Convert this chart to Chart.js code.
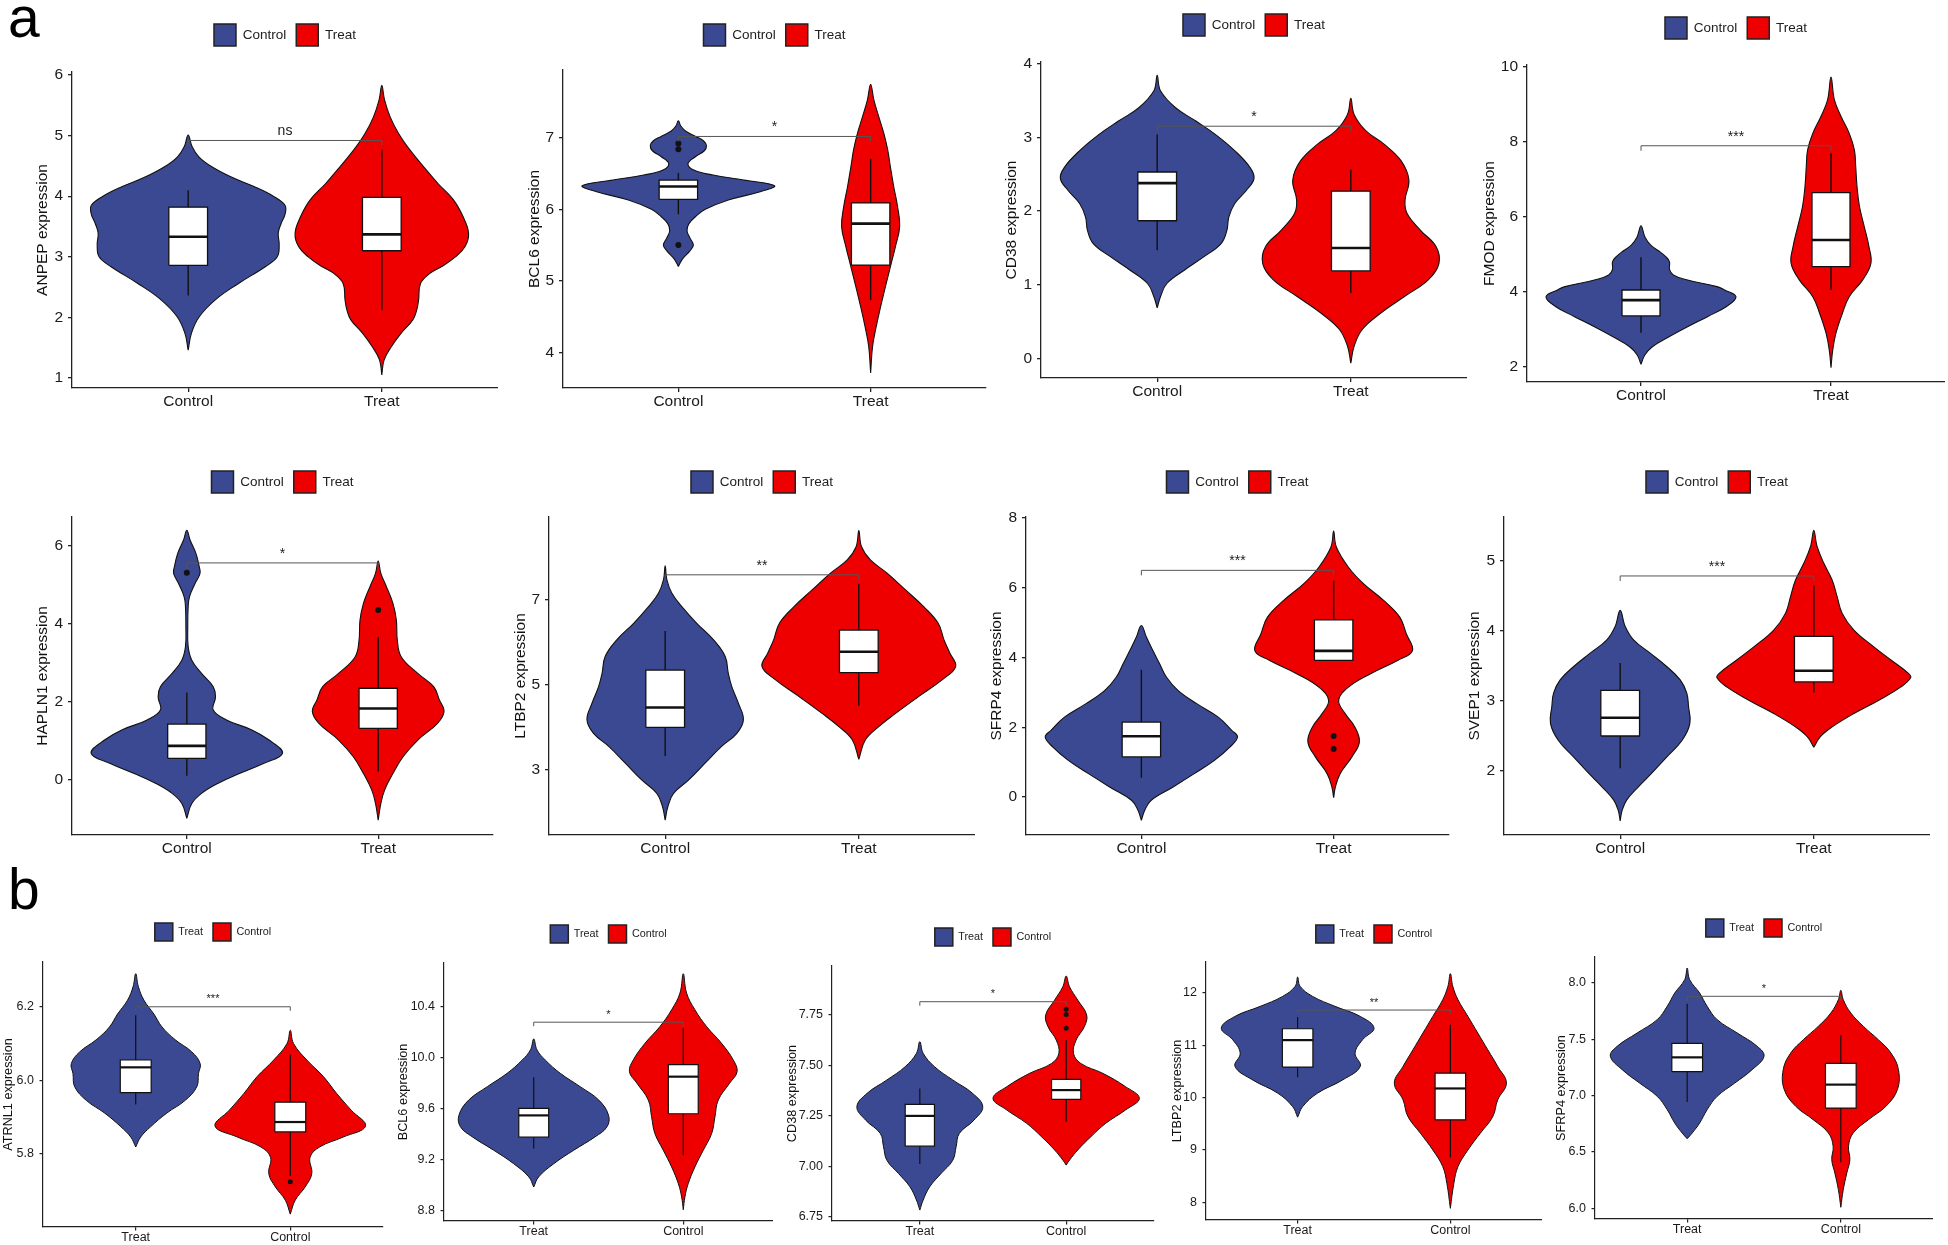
<!DOCTYPE html>
<html>
<head>
<meta charset="utf-8">
<title>Violin plots</title>
<script src="https://cdn.jsdelivr.net/npm/chart.js@4.4.1/dist/chart.umd.min.js"></script>
<style>
  html, body { margin: 0; padding: 0; background: #fff; }
  body { position: relative; width: 1948px; height: 1245px; overflow: hidden; }
  .tag { position: absolute; font-family: 'Liberation Sans', Arial, sans-serif; font-size: 57px; line-height: 57px; color: #000; }
  canvas { position: absolute; }
</style>
</head>
<body>
<div class="tag" style="left:8px; top:-11px;">a</div>
<div class="tag" style="left:8px; top:861px;">b</div>
<script>
// ---------- panel a (Control vs Treat) ----------
const groupsA = ['Control', 'Treat'];
const genesA = ['ANPEP', 'BCL6', 'CD38', 'FMOD', 'HAPLN1', 'LTBP2', 'SFRP4', 'SVEP1'];
const signifA = ['ns', '*', '*', '***', '*', '**', '***', '***'];
const bracketA = [4.92, 7.02, 3.15, 7.89, 5.56, 7.59, 6.50, 4.78];
const yRangeA = [[0.835, 6.05], [3.5, 7.95], [-0.26, 4.02], [1.6, 10.04], [-1.43, 6.74], [1.47, 8.95], [-1.09, 8.03], [1.09, 5.62]];
const yTicksA = [
  ['1', '2', '3', '4', '5', '6'], ['4', '5', '6', '7'], ['0', '1', '2', '3', '4'], ['2', '4', '6', '8', '10'],
  ['0', '2', '4', '6'], ['3', '5', '7'], ['0', '2', '4', '6', '8'], ['2', '3', '4', '5']
];

// violin outlines: [expression, half width] from bottom tip to top tip, one list per group
const violinA_ANPEP = [
  [[1.46,0],[1.74,0.017],[2.01,0.057],[2.29,0.14],[2.56,0.26],[2.84,0.4],[3.0,0.46],[3.2,0.47],[3.39,0.465],[3.55,0.48],[3.7,0.5],[3.85,0.5],[4.0,0.44],[4.16,0.34],[4.32,0.22],[4.49,0.12],[4.65,0.055],[4.82,0.02],[5.01,0]],
  [[1.05,0],[1.3,0.012],[1.52,0.05],[1.74,0.1],[1.96,0.16],[2.12,0.18],[2.29,0.19],[2.56,0.2],[2.73,0.25],[2.84,0.31],[3.0,0.38],[3.17,0.43],[3.39,0.448],[3.66,0.42],[3.94,0.37],[4.21,0.29],[4.49,0.215],[4.76,0.146],[5.04,0.086],[5.31,0.043],[5.59,0.014],[5.83,0]]
];
const violinA_BCL6 = [
  [[5.2,0],[5.3,0.02],[5.42,0.06],[5.5,0.078],[5.6,0.06],[5.7,0.045],[5.8,0.055],[5.9,0.09],[6.0,0.14],[6.13,0.26],[6.25,0.43],[6.33,0.5],[6.41,0.34],[6.48,0.18],[6.55,0.08],[6.64,0.05],[6.74,0.09],[6.82,0.135],[6.89,0.146],[6.96,0.13],[7.02,0.09],[7.1,0.035],[7.17,0.012],[7.24,0]],
  [[3.71,0],[4.08,0.01],[4.36,0.029],[4.64,0.052],[4.92,0.077],[5.2,0.103],[5.48,0.129],[5.76,0.151],[6.04,0.14],[6.32,0.12],[6.59,0.103],[6.83,0.089],[7.06,0.069],[7.29,0.043],[7.53,0.017],[7.75,0]]
];
const violinA_CD38 = [
  [[0.69,0],[0.84,0.017],[1.02,0.05],[1.2,0.14],[1.38,0.24],[1.56,0.33],[1.74,0.36],[1.92,0.37],[2.1,0.4],[2.28,0.46],[2.44,0.5],[2.59,0.48],[2.82,0.4],[3.04,0.3],[3.22,0.2],[3.4,0.095],[3.63,0.017],[3.84,0]],
  [[-0.06,0],[0.17,0.017],[0.4,0.06],[0.62,0.155],[0.84,0.275],[1.07,0.4],[1.29,0.455],[1.52,0.44],[1.74,0.36],[1.97,0.29],[2.15,0.28],[2.42,0.3],[2.68,0.26],[2.91,0.17],[3.09,0.077],[3.31,0.017],[3.53,0]]
];
const violinA_FMOD = [
  [[2.07,0],[2.32,0.02],[2.54,0.06],[2.81,0.15],[3.07,0.245],[3.34,0.35],[3.61,0.45],[3.87,0.5],[4.05,0.44],[4.14,0.4],[4.32,0.24],[4.45,0.17],[4.6,0.15],[4.8,0.15],[4.94,0.13],[5.1,0.09],[5.25,0.05],[5.47,0.02],[5.76,0]],
  [[1.98,0],[2.45,0.009],[2.9,0.026],[3.43,0.06],[3.87,0.096],[4.32,0.167],[4.76,0.21],[5.2,0.2],[5.74,0.175],[6.27,0.15],[6.8,0.137],[7.34,0.13],[7.78,0.123],[8.22,0.096],[8.67,0.053],[9.11,0.018],[9.72,0]]
];
const violinA_HAPLN1 = [
  [[-1.0,0],[-0.62,0.026],[-0.36,0.077],[-0.1,0.164],[0.15,0.275],[0.41,0.4],[0.67,0.5],[1.01,0.43],[1.27,0.34],[1.52,0.21],[1.78,0.138],[2.12,0.15],[2.38,0.138],[2.72,0.077],[3.06,0.026],[3.41,0.007],[3.92,0.005],[4.43,0.007],[4.69,0.014],[5.03,0.043],[5.29,0.069],[5.46,0.065],[5.8,0.048],[6.15,0.017],[6.4,0]],
  [[-1.05,0],[-0.62,0.014],[-0.27,0.034],[0.15,0.077],[0.58,0.13],[1.01,0.207],[1.44,0.31],[1.74,0.344],[2.04,0.32],[2.38,0.29],[2.72,0.207],[3.15,0.12],[3.58,0.1],[4.09,0.095],[4.52,0.077],[4.95,0.043],[5.29,0.014],[5.61,0]]
];
const violinA_LTBP2 = [
  [[1.82,0],[2.14,0.014],[2.45,0.043],[2.76,0.12],[3.16,0.206],[3.55,0.29],[3.86,0.37],[4.18,0.404],[4.57,0.378],[4.96,0.344],[5.27,0.326],[5.67,0.31],[6.06,0.25],[6.45,0.163],[6.84,0.086],[7.16,0.034],[7.47,0.009],[7.8,0]],
  [[3.25,0],[3.71,0.034],[4.02,0.103],[4.33,0.19],[4.73,0.31],[5.12,0.43],[5.43,0.5],[5.75,0.47],[6.06,0.44],[6.45,0.41],[6.84,0.335],[7.24,0.24],[7.63,0.146],[7.94,0.06],[8.25,0.014],[8.63,0]]
];
const violinA_SFRP4 = [
  [[-0.67,0],[-0.39,0.017],[-0.1,0.05],[0.28,0.163],[0.67,0.275],[1.05,0.38],[1.43,0.46],[1.72,0.5],[1.91,0.47],[2.29,0.4],[2.67,0.29],[3.06,0.19],[3.44,0.13],[3.82,0.095],[4.2,0.06],[4.59,0.026],[4.92,0]],
  [[-0.02,0],[0.28,0.009],[0.67,0.034],[1.15,0.095],[1.58,0.134],[2.01,0.11],[2.39,0.06],[2.77,0.026],[3.15,0.077],[3.53,0.19],[3.92,0.335],[4.2,0.41],[4.68,0.378],[5.16,0.344],[5.64,0.26],[6.12,0.155],[6.59,0.077],[7.17,0.014],[7.63,0]]
];
const violinA_SVEP1 = [
  [[1.29,0],[1.44,0.01],[1.59,0.034],[1.78,0.095],[1.97,0.163],[2.2,0.24],[2.44,0.32],[2.68,0.36],[2.92,0.353],[3.11,0.344],[3.3,0.31],[3.49,0.24],[3.68,0.155],[3.87,0.069],[4.06,0.026],[4.29,0]],
  [[2.34,0],[2.49,0.034],[2.63,0.095],[2.82,0.207],[3.01,0.336],[3.2,0.45],[3.33,0.5],[3.39,0.49],[3.58,0.4],[3.77,0.31],[4.01,0.207],[4.25,0.146],[4.49,0.12],[4.72,0.095],[4.96,0.052],[5.2,0.017],[5.43,0]]
];

// box plots: [lower whisker, Q1, median, Q3, upper whisker] per group
const boxA_ANPEP = [[2.36, 2.86, 3.33, 3.82, 4.10], [2.12, 3.10, 3.37, 3.98, 4.77]];
const boxA_BCL6 = [[5.93, 6.14, 6.32, 6.41, 6.51], [4.73, 5.22, 5.80, 6.09, 6.71]];
const boxA_CD38 = [[1.47, 1.87, 2.38, 2.53, 3.04], [0.89, 1.19, 1.50, 2.27, 2.56]];
const boxA_FMOD = [[2.91, 3.36, 3.78, 4.05, 4.92], [4.05, 4.67, 5.38, 6.64, 7.69]];
const boxA_HAPLN1 = [[0.09, 0.54, 0.86, 1.42, 2.23], [0.20, 1.31, 1.82, 2.34, 3.65]];
const boxA_LTBP2 = [[3.33, 4.00, 4.47, 5.35, 6.27], [4.51, 5.29, 5.78, 6.29, 7.38]];
const boxA_SFRP4 = [[0.55, 1.15, 1.74, 2.15, 3.65], [3.90, 3.92, 4.19, 5.08, 6.21]];
const boxA_SVEP1 = [[2.04, 2.50, 2.76, 3.15, 3.54], [3.12, 3.27, 3.43, 3.92, 4.64]];

// outliers: [group (1 or 2), value]
const outA_BCL6 = [[1, 6.92], [1, 6.84], [1, 5.5]];
const outA_HAPLN1 = [[1, 5.31], [2, 4.35]];
const outA_SFRP4 = [[2, 1.75], [2, 1.38]];

// ---------- panel b (Treat vs Control) ----------
const groupsB = ['Treat', 'Control'];
const genesB = ['ATRNL1', 'BCL6', 'CD38', 'LTBP2', 'SFRP4'];
const signifB = ['***', '*', '*', '**', '*'];
const bracketB = [6.2, 10.277, 7.816, 11.675, 7.882];
const yRangeB = [[5.6, 6.322], [8.722, 10.74], [6.729, 7.993], [7.662, 12.593], [5.905, 8.231]];
const yTicksB = [
  ['5.8', '6.0', '6.2'], ['8.8', '9.2', '9.6', '10.0', '10.4'], ['6.75', '7.00', '7.25', '7.50', '7.75'],
  ['8', '9', '10', '11', '12'], ['6.0', '6.5', '7.0', '7.5', '8.0']
];

const violinB_ATRNL1 = [
  [[5.818,0],[5.845,0.032],[5.873,0.096],[5.91,0.2],[5.945,0.32],[5.982,0.395],[6.018,0.406],[6.045,0.417],[6.077,0.363],[6.11,0.256],[6.145,0.17],[6.18,0.118],[6.218,0.053],[6.255,0.017],[6.29,0]],
  [[5.635,0],[5.673,0.032],[5.709,0.096],[5.745,0.139],[5.79,0.128],[5.818,0.19],[5.845,0.342],[5.875,0.487],[5.918,0.395],[5.964,0.3],[6.01,0.214],[6.055,0.107],[6.1,0.021],[6.136,0]]
];
const violinB_BCL6 = [
  [[8.988,0],[9.067,0.033],[9.17,0.134],[9.276,0.268],[9.38,0.41],[9.459,0.49],[9.55,0.5],[9.668,0.435],[9.773,0.31],[9.877,0.178],[9.98,0.078],[10.06,0.022],[10.146,0]],
  [[8.81,0],[8.91,0.011],[9.014,0.033],[9.145,0.078],[9.276,0.134],[9.407,0.19],[9.537,0.212],[9.668,0.234],[9.8,0.31],[9.89,0.36],[9.982,0.334],[10.112,0.256],[10.243,0.156],[10.374,0.078],[10.505,0.022],[10.656,0]]
];
const violinB_CD38 = [
  [[6.783,0],[6.833,0.023],[6.899,0.068],[6.965,0.146],[7.03,0.225],[7.097,0.248],[7.163,0.27],[7.229,0.37],[7.295,0.43],[7.362,0.36],[7.428,0.225],[7.494,0.1],[7.56,0.023],[7.618,0]],
  [[7.006,0],[7.031,0.023],[7.081,0.079],[7.147,0.169],[7.213,0.27],[7.279,0.405],[7.337,0.5],[7.395,0.405],[7.461,0.25],[7.51,0.1],[7.56,0.05],[7.626,0.068],[7.692,0.124],[7.75,0.14],[7.824,0.079],[7.89,0.023],[7.943,0]]
];
const violinB_LTBP2 = [
  [[9.627,0],[9.83,0.033],[10.086,0.13],[10.34,0.295],[10.597,0.41],[10.85,0.376],[11.107,0.425],[11.33,0.5],[11.553,0.41],[11.745,0.245],[11.936,0.098],[12.128,0.016],[12.306,0]],
  [[7.885,0],[8.364,0.023],[8.683,0.05],[9.0,0.115],[9.32,0.196],[9.64,0.278],[9.959,0.31],[10.278,0.367],[10.597,0.31],[10.915,0.245],[11.234,0.18],[11.553,0.115],[11.872,0.05],[12.128,0.016],[12.37,0]]
];
const violinB_SFRP4 = [
  [[6.618,0],[6.669,0.033],[6.757,0.081],[6.876,0.13],[6.994,0.195],[7.112,0.31],[7.231,0.423],[7.35,0.5],[7.438,0.456],[7.556,0.326],[7.675,0.195],[7.793,0.13],[7.911,0.081],[8.03,0.016],[8.133,0]],
  [[6.009,0],[6.166,0.016],[6.314,0.039],[6.432,0.059],[6.55,0.05],[6.669,0.081],[6.787,0.18],[6.905,0.293],[7.053,0.368],[7.231,0.375],[7.379,0.326],[7.497,0.244],[7.615,0.147],[7.734,0.065],[7.852,0.016],[7.935,0]]
];

const boxB_ATRNL1 = [[5.934, 5.966, 6.035, 6.055, 6.177], [5.739, 5.859, 5.886, 5.94, 6.07]];
const boxB_BCL6 = [[9.289, 9.378, 9.548, 9.603, 9.846], [9.237, 9.561, 9.851, 9.945, 10.23]];
const boxB_CD38 = [[7.011, 7.1, 7.25, 7.307, 7.386], [7.221, 7.332, 7.378, 7.431, 7.626]];
const boxB_LTBP2 = [[10.39, 10.584, 11.1, 11.317, 11.54], [8.855, 9.576, 10.176, 10.469, 11.394]];
const boxB_SFRP4 = [[6.944, 7.213, 7.34, 7.464, 7.817], [6.408, 6.89, 7.098, 7.287, 7.536]];

const outB_ATRNL1 = [[2, 5.723]];
const outB_CD38 = [[2, 7.778], [2, 7.752], [2, 7.684]];

const violinsA = [violinA_ANPEP, violinA_BCL6, violinA_CD38, violinA_FMOD, violinA_HAPLN1, violinA_LTBP2, violinA_SFRP4, violinA_SVEP1];
const boxesA = [boxA_ANPEP, boxA_BCL6, boxA_CD38, boxA_FMOD, boxA_HAPLN1, boxA_LTBP2, boxA_SFRP4, boxA_SVEP1];
const outliersA = [[], outA_BCL6, [], [], outA_HAPLN1, [], outA_SFRP4, []];
const violinsB = [violinB_ATRNL1, violinB_BCL6, violinB_CD38, violinB_LTBP2, violinB_SFRP4];
const boxesB = [boxB_ATRNL1, boxB_BCL6, boxB_CD38, boxB_LTBP2, boxB_SFRP4];
const outliersB = [outB_ATRNL1, [], outB_CD38, [], []];

// ---------- layout: plot area [left, top, right, bottom], legend box top, y-title distance ----------
const layoutA = [
  [72, 72, 498, 388, 24, 29], [563, 70, 990, 388, 24, 28], [1041, 62, 1467, 378, 14, 29], [1527, 65, 1945, 382, 17, 37],
  [72, 517, 497, 835, 471, 29], [549, 517, 975, 835, 471, 28], [1026, 517, 1453, 835, 471, 29], [1504, 517, 1930, 835, 471, 29]
];
const layoutB = [
  [43, 962, 387, 1227, 923, 35], [444, 963, 773, 1221, 925, 41], [832, 966, 1158, 1221, 928, 40],
  [1206, 962, 1542, 1220, 925, 29], [1595, 957, 1933, 1219, 919, 34]
];

const FONT = "'Liberation Sans', Arial, Helvetica, sans-serif";
const FILLS = ['#3B4992', '#EE0000'];
const INK = '#1a1a1a';

const styleBig = { yAxisW: 60, xAxisH: 30, tickFont: 15.5, titleFont: 15.5, legendFont: 13.5, legendBox: 22,
  signifFont: 14, violinLW: 1.1, boxLW: 1.3, whiskerLW: 1.4, medianLW: 2.6, axisLW: 1.3, tickLen: 4,
  xPad: 0.5, yPad: 5, dotR: 3, tip: 5 };
const styleSmall = { yAxisW: 52, xAxisH: 26, tickFont: 12.5, titleFont: 12.7, legendFont: 10.8, legendBox: 18,
  signifFont: 11, violinLW: 1, boxLW: 1.2, whiskerLW: 1.2, medianLW: 2.2, axisLW: 1.2, tickLen: 3.5,
  xPad: 0, yPad: 5.5, dotR: 2.5, tip: 4 };

Chart.defaults.font.family = FONT;
Chart.defaults.color = INK;

const bracketPlugin = {
  id: 'signifBracket',
  afterDatasetsDraw(chart, args, o) {
    const { ctx, scales: { x, y } } = chart;
    const py = y.getPixelForValue(o.value);
    const x1 = x.getPixelForValue(1);
    const x2 = x.getPixelForValue(2);
    ctx.save();
    ctx.strokeStyle = '#555';
    ctx.lineWidth = 1;
    ctx.beginPath();
    ctx.moveTo(x1, py + o.tip);
    ctx.lineTo(x1, py);
    ctx.lineTo(x2, py);
    ctx.lineTo(x2, py + o.tip);
    ctx.stroke();
    ctx.fillStyle = '#222';
    ctx.font = o.fontSize + 'px ' + FONT;
    ctx.textAlign = 'center';
    ctx.textBaseline = 'bottom';
    ctx.fillText(o.label, (x1 + x2) / 2, py - 2);
    ctx.restore();
  }
};

function violinPoints(profile, center) {
  const right = profile.map(([v, w]) => ({ x: center + w, y: v }));
  const left = profile.slice().reverse().map(([v, w]) => ({ x: center - w, y: v }));
  return right.concat(left.slice(1));
}

function boxPoints(b, c, hw) {
  return [{ x: c - hw, y: b[1] }, { x: c + hw, y: b[1] }, { x: c + hw, y: b[3] }, { x: c - hw, y: b[3] }, { x: c - hw, y: b[1] }];
}

function drawPanel(p) {
  const s = p.style;
  const [x0, y0, x1, y1, legendTop, titleDist] = p.rect;
  const left = x0 - s.yAxisW;
  const top = legendTop - 10;
  const width = x1 - left;
  const height = y1 + s.xAxisH - top;
  const spacer = y0 - legendTop - s.legendBox - 10;
  const titlePad = s.yAxisW - titleDist - s.titleFont * 0.6;

  const canvas = document.createElement('canvas');
  canvas.width = width;
  canvas.height = height;
  canvas.style.left = left + 'px';
  canvas.style.top = top + 'px';
  canvas.style.width = width + 'px';
  canvas.style.height = height + 'px';
  document.body.appendChild(canvas);

  const datasets = [];
  p.violins.forEach((prof, g) => datasets.push({
    label: p.groups[g], data: violinPoints(prof, g + 1),
    backgroundColor: FILLS[g], borderColor: '#111', borderWidth: s.violinLW, borderJoinStyle: 'round',
    fill: 'shape', tension: 0.4, pointRadius: 0, order: 5
  }));
  p.boxes.forEach((b, g) => {
    const c = g + 1;
    datasets.push({ data: [{ x: c, y: b[0] }, { x: c, y: b[4] }], borderColor: '#111',
      borderWidth: s.whiskerLW, pointRadius: 0, fill: false, order: 4 });
    datasets.push({ data: boxPoints(b, c, 0.1), backgroundColor: '#fff', borderColor: '#111',
      borderWidth: s.boxLW, fill: 'shape', tension: 0, pointRadius: 0, order: 3 });
    datasets.push({ data: [{ x: c - 0.1, y: b[2] }, { x: c + 0.1, y: b[2] }], borderColor: '#111',
      borderWidth: s.medianLW, pointRadius: 0, fill: false, order: 2 });
  });
  if (p.outliers.length) {
    datasets.push({ data: p.outliers.map(([g, v]) => ({ x: g, y: v })), showLine: false,
      pointRadius: s.dotR, pointBackgroundColor: '#111', pointBorderWidth: 0, order: 1 });
  }

  new Chart(canvas, {
    type: 'line',
    data: { datasets },
    options: {
      responsive: false,
      animation: false,
      devicePixelRatio: 1,
      events: [],
      layout: { padding: 0 },
      scales: {
        x: {
          type: 'linear', min: 0.4, max: 2.6,
          afterBuildTicks: sc => { sc.ticks = [{ value: 1 }, { value: 2 }]; },
          afterFit: sc => { sc.height = s.xAxisH; },
          ticks: { callback: v => p.groups[v - 1], font: { size: s.tickFont }, color: INK,
            padding: s.xPad, maxRotation: 0, autoSkip: false },
          grid: { drawOnChartArea: false, drawTicks: true, tickLength: s.tickLen, color: '#222', lineWidth: s.axisLW },
          border: { display: true, color: '#222', width: s.axisLW }
        },
        y: {
          type: 'linear', min: p.yRange[0], max: p.yRange[1],
          afterBuildTicks: sc => { sc.ticks = p.yTicks.map(t => ({ value: parseFloat(t) })); },
          afterFit: sc => { sc.width = s.yAxisW; },
          ticks: { callback: (v, i) => p.yTicks[i], font: { size: s.tickFont }, color: INK,
            padding: s.yPad, autoSkip: false },
          grid: { drawOnChartArea: false, drawTicks: true, tickLength: s.tickLen, color: '#222', lineWidth: s.axisLW },
          border: { display: true, color: '#222', width: s.axisLW },
          title: { display: true, text: p.gene + ' expression', font: { size: s.titleFont }, color: '#111',
            padding: { top: titlePad, bottom: 0 } }
        }
      },
      plugins: {
        legend: {
          display: true, position: 'top', fullSize: false,
          labels: {
            boxWidth: s.legendBox, boxHeight: s.legendBox, padding: 10,
            font: { size: s.legendFont }, color: '#222',
            generateLabels: () => p.groups.map((g, i) => ({
              text: g, fillStyle: FILLS[i], strokeStyle: '#222', lineWidth: 1.5,
              hidden: false, datasetIndex: i, fontColor: '#222'
            }))
          }
        },
        subtitle: { display: true, text: '', position: 'top', weight: 100, padding: 0,
          font: { size: spacer, lineHeight: 1 } },
        tooltip: { enabled: false },
        signifBracket: { value: p.bracket, label: p.signif, tip: s.tip, fontSize: s.signifFont }
      }
    },
    plugins: [bracketPlugin]
  });
}

genesA.forEach((gene, i) => drawPanel({
  gene, groups: groupsA, violins: violinsA[i], boxes: boxesA[i], outliers: outliersA[i],
  yRange: yRangeA[i], yTicks: yTicksA[i], signif: signifA[i], bracket: bracketA[i],
  rect: layoutA[i], style: styleBig
}));
genesB.forEach((gene, i) => drawPanel({
  gene, groups: groupsB, violins: violinsB[i], boxes: boxesB[i], outliers: outliersB[i],
  yRange: yRangeB[i], yTicks: yTicksB[i], signif: signifB[i], bracket: bracketB[i],
  rect: layoutB[i], style: styleSmall
}));
</script>
</body>
</html>
